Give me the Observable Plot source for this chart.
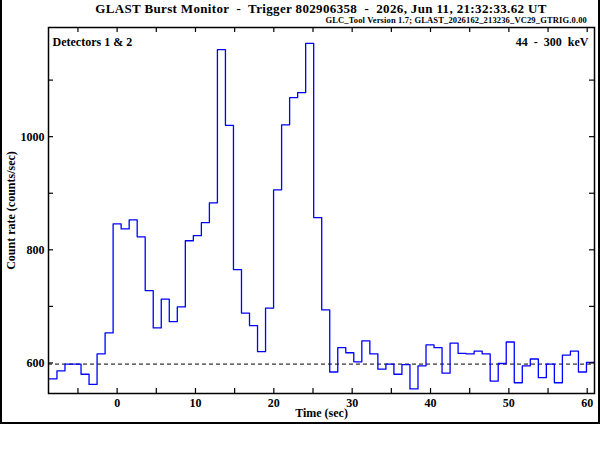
<!DOCTYPE html>
<html><head><meta charset="utf-8">
<script src="https://cdn.jsdelivr.net/npm/d3@7"></script>
<script src="https://cdn.jsdelivr.net/npm/@observablehq/plot@0.6"></script>
<style>
body{margin:0;background:#fff;}
#wrap{position:relative;width:600px;height:450px;font-family:"Liberation Serif",serif;font-weight:bold;color:#000;}
#title{position:absolute;left:48px;width:546px;top:1px;text-align:center;font-size:13px;letter-spacing:0.35px;white-space:pre;line-height:15px;}
#sub{position:absolute;right:13px;top:16px;font-size:8.5px;letter-spacing:0.15px;line-height:9px;white-space:pre;}
#border{position:absolute;left:0;top:0;width:600px;height:424px;border:2px solid #000;border-top:none;box-sizing:border-box;}
#chart{position:absolute;left:0;top:0;}
</style></head><body>
<div id="wrap"><div id="border"></div><div id="chart"></div><div id="title"></div><div id="sub"></div></div>
<script>
const titleText = "GLAST Burst Monitor  -  Trigger 802906358  -  2026, Jun 11, 21:32:33.62 UT";
const subtitleText = "GLC_Tool Version 1.7; GLAST_2026162_213236_VC29_GTRIG.0.00";
const leftLabel = "Detectors 1 & 2";
const rightLabel = "44\u00a0\u00a0-\u00a0\u00a0300\u00a0\u00a0keV";
const xLabel = "Time (sec)";
const yLabel = "Count rate (counts/sec)";

const xTickLabels = [0, 10, 20, 30, 40, 50, 60];
const xMinorTicks = [-5, 0, 5, 10, 15, 20, 25, 30, 35, 40, 45, 50, 55, 60];
const yTickLabels = [600, 800, 1000];
const yMinorTicks = [600, 700, 800, 900, 1000, 1100];
const xDomain = [-8.76, 60.93];
const yDomain = [546, 1193];

const binStart = -8.704;
const binWidth = 1.024;
const counts = [
  572, 586, 598, 598, 580, 562, 616, 653,
  846, 837, 853, 823, 728, 662, 713, 673, 699, 816, 825, 848, 883,
  1154, 1020, 765, 688, 666, 620, 697, 906, 1021, 1069, 1078, 1165, 857, 694,
  584, 627, 618, 602, 639, 616, 589, 598, 580, 597, 554, 595, 632, 627, 582,
  635, 617, 616, 621, 616, 568, 599, 637, 565, 595, 607, 574, 598, 565, 614,
  621, 584, 601
];
const background = 598;

document.getElementById("title").textContent = titleText;
document.getElementById("sub").textContent = subtitleText;

const pts = counts.map((c, i) => ({t: binStart + i * binWidth, c}));
pts.push({t: binStart + counts.length * binWidth, c: counts[counts.length - 1]});

const W = 600, H = 450, mt = 27, mb = 57, ml = 48, mr = 6;
const ph = H - mt - mb, pw = W - ml - mr;
const tk = 5;
const font = "'Liberation Serif', serif";

const chart = Plot.plot({
  width: W, height: H,
  marginTop: mt, marginBottom: mb, marginLeft: ml, marginRight: mr,
  style: {fontFamily: font, fontWeight: "bold", fontSize: "12px", color: "#000", background: "transparent"},
  x: {domain: xDomain},
  y: {domain: yDomain},
  marks: [
    Plot.ruleY([background], {stroke: "#000", strokeWidth: 1, strokeDasharray: "4,3"}),
    Plot.line(pts, {x: "t", y: "c", curve: "step-after", stroke: "#0000ff", strokeWidth: 1.3, clip: true}),
    Plot.ruleX(xMinorTicks, {insetTop: ph - tk, strokeWidth: 1.2}),
    Plot.ruleX(xMinorTicks, {insetBottom: ph - tk, strokeWidth: 1.2}),
    Plot.ruleY(yMinorTicks, {insetRight: pw - tk, strokeWidth: 1.2}),
    Plot.ruleY(yMinorTicks, {insetLeft: pw - tk, strokeWidth: 1.2}),
    Plot.axisX(xTickLabels, {tickSize: 0, tickPadding: 5, tickFormat: d3.format("d"), label: xLabel, labelAnchor: "center", labelOffset: 23, labelArrow: "none"}),
    Plot.axisY(yTickLabels, {tickSize: 0, tickPadding: 4, tickFormat: d3.format("d"), label: yLabel, labelAnchor: "center", labelOffset: 42, labelArrow: "none"}),
    Plot.frame({stroke: "#000", strokeWidth: 1.5}),
    Plot.text([leftLabel], {frameAnchor: "top-left", dx: 4, dy: 15, lineAnchor: "middle", textAnchor: "start", fontSize: 12}),
    Plot.text([rightLabel], {frameAnchor: "top-right", dx: -6, dy: 15, lineAnchor: "middle", textAnchor: "end", fontSize: 12})
  ]
});
document.getElementById("chart").appendChild(chart);
</script>
</body></html>
